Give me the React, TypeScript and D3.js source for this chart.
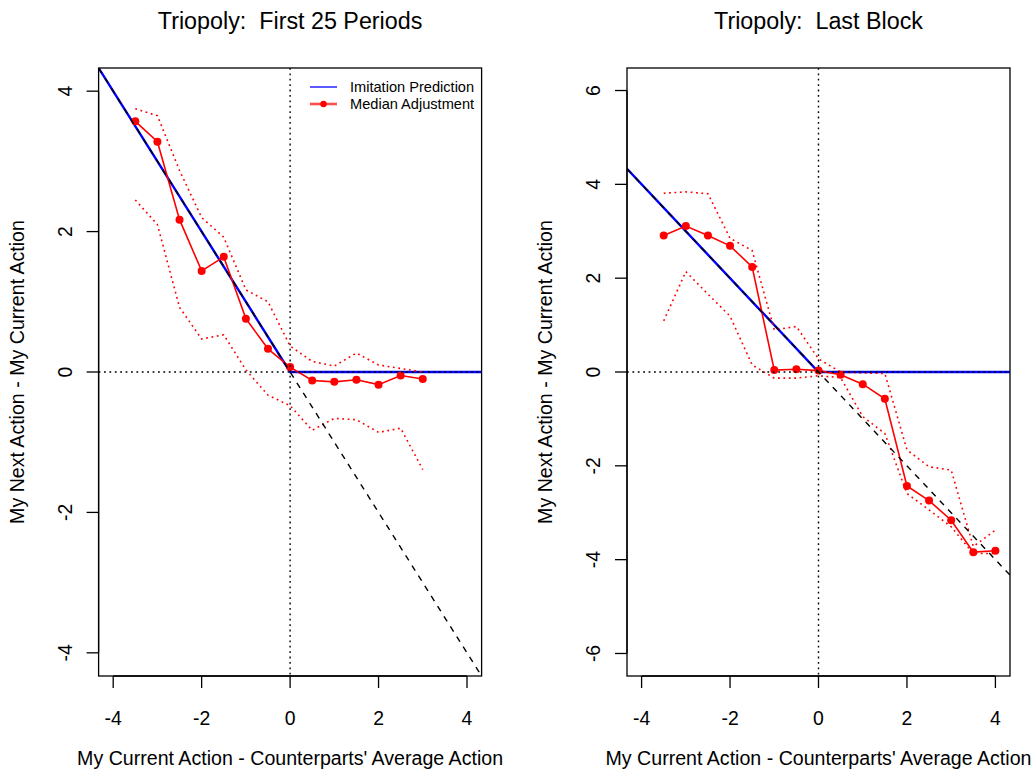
import React from "react";
import * as d3 from "d3";

const leftX = [-3.5, -3, -2.5, -2, -1.5, -1, -0.5, 0, 0.5, 1, 1.5, 2, 2.5, 3];
const leftMedian = [3.57, 3.28, 2.17, 1.44, 1.64, 0.76, 0.33, 0.07, -0.12, -0.14, -0.11, -0.18, -0.05, -0.1];
const leftUpper = [3.75, 3.65, 2.87, 2.2, 1.92, 1.17, 1.0, 0.37, 0.15, 0.085, 0.27, 0.1, 0.05, 0.0];
const leftLower = [2.45, 2.1, 0.92, 0.47, 0.53, 0.03, -0.33, -0.48, -0.83, -0.66, -0.68, -0.86, -0.8, -1.39];

const rightX = [-3.5, -3, -2.5, -2, -1.5, -1, -0.5, 0, 0.5, 1, 1.5, 2, 2.5, 3, 3.5, 4];
const rightMedian = [2.91, 3.11, 2.91, 2.69, 2.24, 0.04, 0.06, 0.03, -0.06, -0.26, -0.57, -2.43, -2.74, -3.16, -3.84, -3.81];
const rightUpper = [3.81, 3.84, 3.8, 2.85, 2.59, 0.9, 0.97, 0.28, 0.0, -0.02, -0.03, -1.66, -2.02, -2.09, -3.72, -3.37];
const rightLower = [1.09, 2.14, 1.66, 1.19, 0.15, -0.13, -0.13, -0.08, -0.12, -0.95, -1.31, -2.59, -2.94, -3.3, -3.87, -3.87];

const xTicks = [-4, -2, 0, 2, 4];
const leftYTicks = [-4, -2, 0, 2, 4];
const rightYTicks = [-6, -4, -2, 0, 2, 4, 6];

const titles = ["Triopoly:  First 25 Periods", "Triopoly:  Last Block"];
const xLabel = "My Current Action - Counterparts' Average Action";
const yLabel = "My Next Action - My Current Action";
const legendLabels = ["Imitation Prediction", "Median Adjustment"];

const FONT = "'Liberation Sans', Arial, Helvetica, sans-serif";

type PanelProps = {
  id: string;
  x0: number;
  x1: number;
  xLim: number;
  yLim: number;
  xs: number[];
  med: number[];
  up: number[];
  lo: number[];
  yTicks: number[];
  title: string;
  legend: boolean;
};

function Panel(p: PanelProps) {
  const top = 68;
  const bottom = 676;
  const x = d3.scaleLinear().domain([-p.xLim, p.xLim]).range([p.x0, p.x1]);
  const y = d3.scaleLinear().domain([-p.yLim, p.yLim]).range([bottom, top]);
  const pts = (vals: number[]) => p.xs.map((v, i) => [v, vals[i]] as [number, number]);
  const line = d3
    .line<[number, number]>()
    .x((d) => x(d[0]))
    .y((d) => y(d[1]));
  const lim = Math.min(p.xLim, p.yLim);
  const imitation: [number, number][] = [
    [-lim, lim],
    [0, 0],
    [p.xLim, 0],
  ];
  const diag: [number, number][] = [
    [-p.xLim, p.xLim],
    [p.xLim, -p.xLim],
  ];
  const cx = (p.x0 + p.x1) / 2;
  const red = "#ff0000";
  return (
    <g>
      <defs>
        <clipPath id={p.id}>
          <rect x={p.x0} y={top} width={p.x1 - p.x0} height={bottom - top} />
        </clipPath>
      </defs>
      <text x={cx} y={29} textAnchor="middle" fontSize={23.3} fontFamily={FONT} style={{ whiteSpace: "pre" }}>
        {p.title}
      </text>
      <g clipPath={`url(#${p.id})`}>
        <path d={line(imitation) || ""} fill="none" stroke="#0000ff" strokeWidth={2.4} />
        <path d={line(pts(p.up)) || ""} fill="none" stroke={red} strokeWidth={1.6} strokeDasharray="1.8,3.6" />
        <path d={line(pts(p.lo)) || ""} fill="none" stroke={red} strokeWidth={1.6} strokeDasharray="1.8,3.6" />
        <path d={line(pts(p.med)) || ""} fill="none" stroke={red} strokeWidth={1.6} />
        {pts(p.med).map((d, i) => (
          <circle key={i} cx={x(d[0])} cy={y(d[1])} r={4} fill={red} />
        ))}
        <path d={line(diag) || ""} fill="none" stroke="#000" strokeWidth={1.4} strokeDasharray="6,6" />
        <line x1={p.x0} x2={p.x1} y1={y(0)} y2={y(0)} stroke="#000" strokeWidth={1.4} strokeDasharray="1.8,3.6" />
        <line x1={x(0)} x2={x(0)} y1={top} y2={bottom} stroke="#000" strokeWidth={1.4} strokeDasharray="1.8,3.6" />
      </g>
      <rect x={p.x0} y={top} width={p.x1 - p.x0} height={bottom - top} fill="none" stroke="#000" strokeWidth={1.3} />
      <line x1={x(xTicks[0])} x2={x(xTicks[xTicks.length - 1])} y1={bottom} y2={bottom} stroke="#000" strokeWidth={1.3} />
      {xTicks.map((t) => (
        <g key={t}>
          <line x1={x(t)} x2={x(t)} y1={bottom} y2={bottom + 12} stroke="#000" strokeWidth={1.3} />
          <text x={x(t)} y={725} textAnchor="middle" fontSize={19.4} fontFamily={FONT}>
            {t}
          </text>
        </g>
      ))}
      <line x1={p.x0} x2={p.x0} y1={y(p.yTicks[0])} y2={y(p.yTicks[p.yTicks.length - 1])} stroke="#000" strokeWidth={1.3} />
      {p.yTicks.map((t) => (
        <g key={t}>
          <line x1={p.x0 - 12} x2={p.x0} y1={y(t)} y2={y(t)} stroke="#000" strokeWidth={1.3} />
          <text
            transform={`translate(${p.x0 - 27},${y(t)}) rotate(-90)`}
            textAnchor="middle"
            fontSize={19.4}
            fontFamily={FONT}
          >
            {t}
          </text>
        </g>
      ))}
      <text x={cx} y={765} textAnchor="middle" fontSize={19.6} fontFamily={FONT}>
        {xLabel}
      </text>
      <text
        transform={`translate(${p.x0 - 75},${(top + bottom) / 2}) rotate(-90)`}
        textAnchor="middle"
        fontSize={19.6}
        fontFamily={FONT}
      >
        {yLabel}
      </text>
      {p.legend && (
        <g fontFamily={FONT} fontSize={14.6}>
          <line x1={310} x2={337} y1={87} y2={87} stroke="#0000ff" strokeWidth={1.3} />
          <text x={350} y={92}>
            {legendLabels[0]}
          </text>
          <line x1={310} x2={337} y1={104} y2={104} stroke="#ff4d4d" strokeWidth={2.6} />
          <circle cx={323.5} cy={104} r={3.2} fill={red} />
          <text x={350} y={109}>
            {legendLabels[1]}
          </text>
        </g>
      )}
    </g>
  );
}

export default function App() {
  return (
    <svg
      width={1034}
      height={769}
      style={{ position: "absolute", left: 0, top: 0, background: "#fff" }}
    >
      <rect x={0} y={0} width={1034} height={769} fill="#fff" />
      <Panel
        id="clipL"
        x0={98.6}
        x1={481.6}
        xLim={4.33}
        yLim={4.33}
        xs={leftX}
        med={leftMedian}
        up={leftUpper}
        lo={leftLower}
        yTicks={leftYTicks}
        title={titles[0]}
        legend={true}
      />
      <Panel
        id="clipR"
        x0={627}
        x1={1010}
        xLim={4.33}
        yLim={6.48}
        xs={rightX}
        med={rightMedian}
        up={rightUpper}
        lo={rightLower}
        yTicks={rightYTicks}
        title={titles[1]}
        legend={false}
      />
    </svg>
  );
}
